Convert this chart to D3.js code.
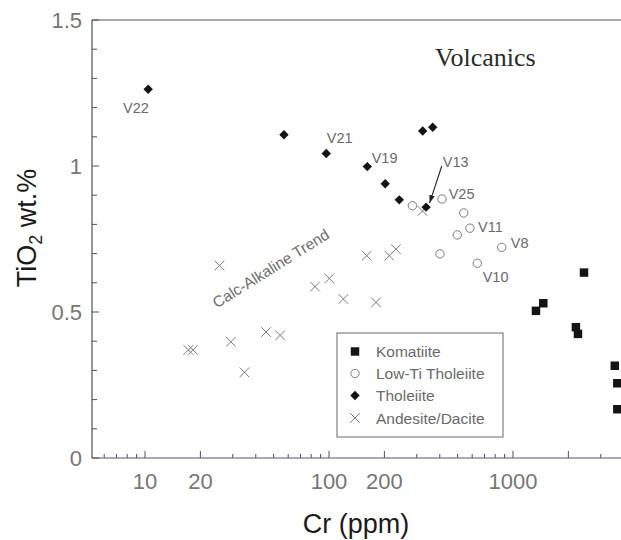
<!DOCTYPE html>
<html>
<head>
<meta charset="utf-8">
<script src="https://cdn.jsdelivr.net/npm/d3@7/dist/d3.min.js"></script>
<style>
  html, body { margin: 0; padding: 0; background: #fff; }
  svg { display: block; }
  text { font-family: "Liberation Sans", Arial, Helvetica, sans-serif; }
  text.serif { font-family: "Liberation Serif", "Times New Roman", serif; }
</style>
</head>
<body>
<svg id="chart" width="621" height="540"></svg>
<script>
// ---------------- data ----------------
const komatiiteCr = [2432, 1461, 1333, 2197, 2255, 3575, 3690, 3690];
const komatiiteTi = [0.635, 0.530, 0.504, 0.448, 0.425, 0.316, 0.256, 0.167];

const lowTiCr = [284, 411, 540, 583, 498, 868, 401, 640];
const lowTiTi = [0.864, 0.887, 0.839, 0.787, 0.764, 0.7215, 0.699, 0.667];

const tholeiiteCr = [10.4, 56.9, 96.6, 323, 366, 161.5, 202, 241, 337];
const tholeiiteTi = [1.263, 1.107, 1.043, 1.12, 1.1325, 0.998, 0.939, 0.884, 0.859];

const andesiteCr = [25.4, 17.2, 18.2, 29.3, 34.7, 45.5, 54.2, 83.9, 100.4, 119.7, 160.3, 180, 212.6, 231, 322];
const andesiteTi = [0.659, 0.37, 0.37, 0.398, 0.2935, 0.4315, 0.420, 0.587, 0.615, 0.5445, 0.693, 0.533, 0.693, 0.715, 0.846];

const seriesNames = ["Komatiite", "Low-Ti Tholeiite", "Tholeiite", "Andesite/Dacite"];

const xMajorTicks = [10, 20, 100, 200, 1000, 2000];
const xTickLabels = [10, 20, 100, 200, 1000];
const xMinorTicks = [6, 7, 8, 9, 30, 40, 50, 60, 70, 80, 90, 300, 400, 500, 600, 700, 800, 900, 3000, 4000];
const yMajorTicks = [0, 0.5, 1, 1.5];
const yTickLabels = ["0", "0.5", "1", "1.5"];
const yMinorTicks = [0.1, 0.2, 0.3, 0.4, 0.6, 0.7, 0.8, 0.9, 1.1, 1.2, 1.3, 1.4];

// sample labels, anchored in data space (Cr, TiO2)
const labelNames = ["V22", "V21", "V19", "V13", "V25", "V11", "V8", "V10"];
const labelCr = [7.59, 97.2, 170.6, 415, 447, 646, 972, 684];
const labelTi = [1.1815, 1.0798, 1.0113, 0.9976, 0.886, 0.775, 0.720, 0.6038];

// arrow from V13 label to its point (Cr, TiO2)
const arrowFromCr = 410, arrowFromTi = 1.0;
const arrowToCr = 352, arrowToTi = 0.873;

const trendLabel = "Calc-Alkaline Trend";
const trendCr = 50, trendTi = 0.6336;

// ---------------- layout ----------------
const svg = d3.select("#chart");
const padL = 92, padT = 20, padB = 458, padR = 641.6;

const x = d3.scaleLog().domain([5.15, 5000]).range([padL, padR]);
const y = d3.scaleLinear().domain([0, 1.5]).range([padB, padT]);

const axisColor = "#505060";
const tickTextColor = "#767676";
const markColor = "#141414";
const openColor = "#7a7a7a";

// frame: top and left and bottom lines
svg.append("line").attr("x1", padL).attr("x2", padR).attr("y1", padT).attr("y2", padT)
  .attr("stroke", "#5a5078").attr("stroke-width", 1.2);
svg.append("line").attr("x1", padL).attr("x2", padL).attr("y1", padT).attr("y2", padB)
  .attr("stroke", axisColor).attr("stroke-width", 1.2);
svg.append("line").attr("x1", padL).attr("x2", padR).attr("y1", padB).attr("y2", padB)
  .attr("stroke", "#5a5078").attr("stroke-width", 1.2);

// x ticks (inward)
const gx = svg.append("g");
gx.selectAll("line.maj").data(xMajorTicks).join("line")
  .attr("x1", d => x(d)).attr("x2", d => x(d))
  .attr("y1", padB).attr("y2", padB - 7)
  .attr("stroke", axisColor).attr("stroke-width", 1);
gx.selectAll("line.min").data(xMinorTicks).join("line")
  .attr("x1", d => x(d)).attr("x2", d => x(d))
  .attr("y1", padB).attr("y2", padB - 4)
  .attr("stroke", axisColor).attr("stroke-width", 1);
gx.selectAll("text").data(xTickLabels).join("text")
  .attr("x", d => x(d)).attr("y", padB + 31)
  .attr("text-anchor", "middle").attr("font-size", 22)
  .attr("fill", tickTextColor).text(d => d);

// y ticks (inward)
const gy = svg.append("g");
gy.selectAll("line.maj").data(yMajorTicks).join("line")
  .attr("x1", padL).attr("x2", padL + 7)
  .attr("y1", d => y(d)).attr("y2", d => y(d))
  .attr("stroke", axisColor).attr("stroke-width", 1);
gy.selectAll("line.min").data(yMinorTicks).join("line")
  .attr("x1", padL).attr("x2", padL + 5)
  .attr("y1", d => y(d)).attr("y2", d => y(d))
  .attr("stroke", axisColor).attr("stroke-width", 1);
gy.selectAll("text").data(yMajorTicks).join("text")
  .attr("x", padL - 10).attr("y", d => y(d) + 8)
  .attr("text-anchor", "end").attr("font-size", 22)
  .attr("fill", tickTextColor).text((d, i) => yTickLabels[i]);

// axis titles
svg.append("text").attr("x", 356).attr("y", 533)
  .attr("text-anchor", "middle").attr("font-size", 27).attr("fill", "#1a1a1a")
  .text("Cr (ppm)");
const yt = svg.append("text")
  .attr("transform", "translate(36,228) rotate(-90)")
  .attr("text-anchor", "middle").attr("font-size", 27).attr("fill", "#1a1a1a");
yt.append("tspan").text("TiO");
yt.append("tspan").attr("font-size", 18).attr("dy", 6).text("2");
yt.append("tspan").attr("dy", -6).text(" wt.%");

// panel title
svg.append("text").attr("class", "serif").attr("x", 435).attr("y", 66)
  .attr("font-size", 26).attr("fill", "#2a2a2a").text("Volcanics");

// ---------------- marks ----------------
const sqSym = d3.symbol(d3.symbolSquare, 72);
const diaSym = d3.symbol(d3.symbolSquare, 44);
const xSym = d3.symbol(d3.symbolTimes, 62);

function zip(a, b) { return a.map((v, i) => [v, b[i]]); }

// Andesite/Dacite crosses
svg.append("g").selectAll("path").data(zip(andesiteCr, andesiteTi)).join("path")
  .attr("d", xSym)
  .attr("transform", d => `translate(${x(d[0])},${y(d[1])})`)
  .attr("fill", "none").attr("stroke", openColor).attr("stroke-width", 1);

// Low-Ti Tholeiite open circles
svg.append("g").selectAll("circle").data(zip(lowTiCr, lowTiTi)).join("circle")
  .attr("cx", d => x(d[0])).attr("cy", d => y(d[1])).attr("r", 4.2)
  .attr("fill", "none").attr("stroke", openColor).attr("stroke-width", 1);

// Tholeiite diamonds
svg.append("g").selectAll("path").data(zip(tholeiiteCr, tholeiiteTi)).join("path")
  .attr("d", diaSym)
  .attr("transform", d => `translate(${x(d[0])},${y(d[1])}) rotate(45)`)
  .attr("fill", markColor);

// Komatiite squares
svg.append("g").selectAll("path").data(zip(komatiiteCr, komatiiteTi)).join("path")
  .attr("d", sqSym)
  .attr("transform", d => `translate(${x(d[0])},${y(d[1])})`)
  .attr("fill", markColor);

// sample labels
svg.append("g").selectAll("text").data(labelNames).join("text")
  .attr("x", (d, i) => x(labelCr[i])).attr("y", (d, i) => y(labelTi[i]))
  .attr("font-size", 14.5).attr("fill", "#6a6a6a").text(d => d);

// arrow
const defs = svg.append("defs");
defs.append("marker").attr("id", "ah").attr("viewBox", "0 0 10 10")
  .attr("refX", 10).attr("refY", 5).attr("markerWidth", 8).attr("markerHeight", 8)
  .attr("markerUnits", "userSpaceOnUse").attr("orient", "auto")
  .append("path").attr("d", "M0,1.5 L10,5 L0,8.5 Z").attr("fill", "#222");
svg.append("line")
  .attr("x1", x(arrowFromCr)).attr("y1", y(arrowFromTi))
  .attr("x2", x(arrowToCr)).attr("y2", y(arrowToTi))
  .attr("stroke", "#222").attr("stroke-width", 1.1).attr("marker-end", "url(#ah)");

// trend label
svg.append("text")
  .attr("transform", `translate(${x(trendCr)},${y(trendTi)}) rotate(-32)`)
  .attr("text-anchor", "middle").attr("font-size", 15.5).attr("fill", "#6e6e6e")
  .text(trendLabel);

// ---------------- legend ----------------
const lg = svg.append("g");
lg.append("rect").attr("x", 337).attr("y", 333).attr("width", 166).attr("height", 104)
  .attr("fill", "#fff").attr("stroke", "#6a6a6a").attr("stroke-width", 1);
const rowY = [351.5, 373.5, 395.5, 418];
const lx = 355;
lg.append("path").attr("d", sqSym).attr("transform", `translate(${lx},${rowY[0]})`).attr("fill", markColor);
lg.append("circle").attr("cx", lx).attr("cy", rowY[1]).attr("r", 4.2)
  .attr("fill", "none").attr("stroke", openColor).attr("stroke-width", 1);
lg.append("path").attr("d", diaSym).attr("transform", `translate(${lx},${rowY[2]}) rotate(45)`).attr("fill", markColor);
lg.append("path").attr("d", xSym).attr("transform", `translate(${lx},${rowY[3]})`)
  .attr("fill", "none").attr("stroke", openColor).attr("stroke-width", 1);
lg.selectAll("text").data(seriesNames).join("text")
  .attr("x", 376).attr("y", (d, i) => rowY[i] + 5.5)
  .attr("font-size", 15.5).attr("fill", "#6a6a6a").text(d => d);
</script>
</body>
</html>
